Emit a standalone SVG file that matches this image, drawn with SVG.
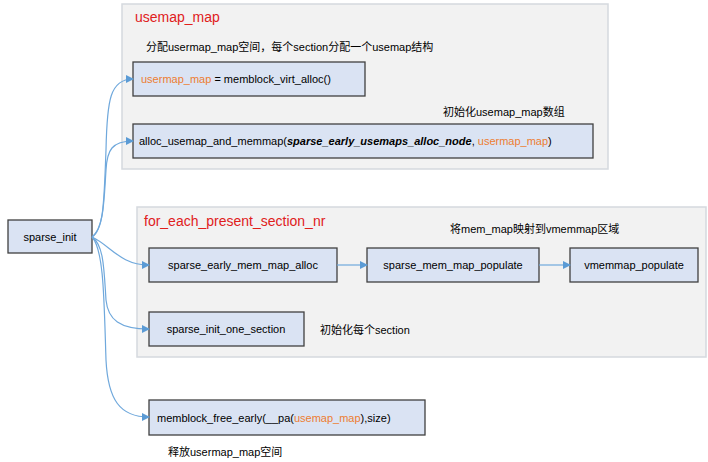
<svg xmlns="http://www.w3.org/2000/svg" width="708" height="462" viewBox="0 0 708 462">
<style>
.c{fill:#f2f2f2;stroke:#d5d9de;stroke-width:1.5}
.n{fill:#dae3f3;stroke:#404040;stroke-width:1.3}
text{font-family:"Liberation Sans","Noto Sans CJK SC",sans-serif;font-size:11px;fill:#000}
.t{font-size:14px;fill:#e0201c}
.o{fill:#ed7d31}
.e{fill:none;stroke:#6fa8dc;stroke-width:1.2}
</style>
<defs><marker id="a" markerWidth="8" markerHeight="8" refX="7" refY="4" orient="auto" markerUnits="userSpaceOnUse"><path d="M0,0 L8,4 L0,8 z" fill="#5b9bd5"/></marker></defs>
<rect width="708" height="462" fill="#fff"/>
<g id="g1"><rect class="c" x="122" y="4" width="486" height="165"/><text class="t" x="135" y="22">usemap_map</text>
<text x="146" y="51">分配usermap_map空间，每个section分配一个usemap结构</text>
<text x="443" y="116">初始化usemap_map数组</text></g>
<g id="g2"><rect class="c" x="137" y="207" width="569" height="150"/><text class="t" x="144" y="226">for_each_present_section_nr</text>
<text x="450" y="233">将mem_map映射到vmemmap区域</text>
<text x="320" y="334">初始化每个section</text></g>
<g id="sparse_init"><rect class="n" x="8" y="220" width="84" height="33"/><text x="50" y="241" text-anchor="middle">sparse_init</text></g>
<g id="n1"><rect class="n" x="133" y="62" width="232" height="34"/><text x="141" y="83"><tspan class="o">usermap_map</tspan> = memblock_virt_alloc()</text></g>
<g id="n2"><rect class="n" x="133" y="124" width="460" height="34"/><text x="139" y="145">alloc_usemap_and_memmap(<tspan font-weight="bold" font-style="italic">sparse_early_usemaps_alloc_node</tspan>, <tspan class="o">usermap_map</tspan>)</text></g>
<g id="n3"><rect class="n" x="149" y="248" width="188" height="34"/><text x="243" y="269" text-anchor="middle">sparse_early_mem_map_alloc</text></g>
<g id="n4"><rect class="n" x="367" y="248" width="172" height="34"/><text x="453" y="269" text-anchor="middle">sparse_mem_map_populate</text></g>
<g id="n5"><rect class="n" x="570" y="248" width="128" height="34"/><text x="634" y="269" text-anchor="middle">vmemmap_populate</text></g>
<g id="n6"><rect class="n" x="149" y="312" width="155" height="34"/><text x="226" y="333" text-anchor="middle">sparse_init_one_section</text></g>
<g id="n7"><rect class="n" x="149" y="400" width="276" height="35"/><text x="157" y="422">memblock_free_early(__pa(<tspan class="o">usemap_map</tspan>),size)</text>
<text x="168" y="456">释放usermap_map空间</text></g>
<g id="edges">
<path class="e" marker-end="url(#a)" d="M92,237 C104,230 104,200 106,150 C107,100 110,79 133,79"/>
<path class="e" marker-end="url(#a)" d="M92,237 C104,228 104,200 106,170 C107,150 112,141 133,141"/>
<path class="e" marker-end="url(#a)" d="M92,237 C110,245 120,265 149,265"/>
<path class="e" marker-end="url(#a)" d="M92,237 C104,245 104,270 106,300 C108,320 120,329 149,329"/>
<path class="e" marker-end="url(#a)" d="M92,237 C104,250 104,300 106,360 C108,400 120,417 149,417"/>
<path class="e" marker-end="url(#a)" d="M337,265 H367"/>
<path class="e" marker-end="url(#a)" d="M539,265 H570"/>
</g>
</svg>
